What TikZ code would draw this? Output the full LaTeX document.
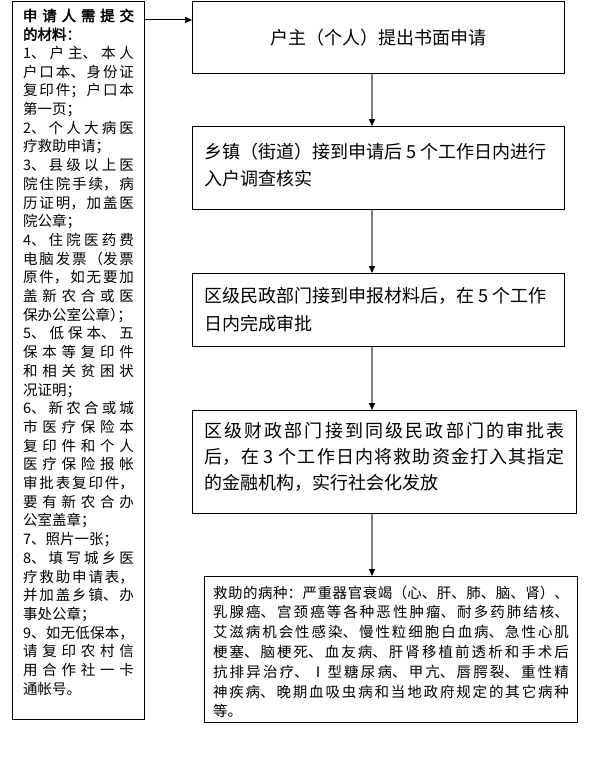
\documentclass[tikz,border=0pt]{standalone}
\usepackage{fontspec}
\setmainfont[AutoFakeBold=2.5]{Noto Sans CJK SC}
\usepackage{tikz}
\usetikzlibrary{arrows.meta}
\usetikzlibrary{positioning}

\XeTeXlinebreaklocale "zh"
\XeTeXlinebreakskip = 0pt plus 3pt minus 1.5pt
\tolerance = 10000

\newcommand{\BoxText}[3]{\parbox[c][#1][t]{#2}{#3}}
\newcommand{\HalfPunct}[1]{\makebox[0.5em][l]{#1}}

\begin{document}
\begin{tikzpicture}
[
	x = 1bp, y = 1bp,
	StepBox/.style	= {draw, line width = 1bp, inner sep = 0bp, anchor = north west},
	Flow/.style		= {draw = gray, line width = 1.5bp, -{Triangle[length = 7bp, width = 6bp, color = black]}},
	HandIn/.style	= {draw = black, line width = 1bp, -{Triangle[length = 7bp, width = 6bp]}},
]
	\useasboundingbox [fill = white] (0,0) rectangle (612,-760);

	% materials the applicant hands in
	\node (docs) [StepBox, minimum width = 132bp, minimum height = 717.5bp, font = \fontsize{14.5bp}{18.7bp}\selectfont] at (12,-1.5)
	{\BoxText{704bp}{111bp}{%
		{\bfseries 申请人需提交\linebreak 的材料：}\par
		1、户主、本人\linebreak 户口本、身份证\linebreak 复印件；户口本\linebreak 第一页；\par
		2、个人大病医\linebreak 疗救助申请；\par
		3、县级以上医\linebreak 院住院手续，病\linebreak 历证明，加盖医\linebreak 院公章；\par
		4、住院医药费\linebreak 电脑发票（发票\linebreak 原件，如无要加\linebreak 盖新农合或医\linebreak 保办公室公章\HalfPunct{）}；\par
		5、低保本、五\linebreak 保本等复印件\linebreak 和相关贫困状\linebreak 况证明；\par
		6、新农合或城\linebreak 市医疗保险本\linebreak 复印件和个人\linebreak 医疗保险报帐\linebreak 审批表复印件，\linebreak 要有新农合办\linebreak 公室盖章；\par
		7、照片一张；\par
		8、填写城乡医\linebreak 疗救助申请表，\linebreak 并加盖乡镇、办\linebreak 事处公章；\par
		9、如无低保本，\linebreak 请复印农村信\linebreak 用合作社一卡\linebreak 通帐号。}};

	% steps
	\node (ask) [StepBox, minimum width = 372bp, minimum height = 72bp, font = \fontsize{18bp}{26bp}\selectfont] at (192,-1) {户主（个人）提出书面申请};
	\node (check) [StepBox, below = 52bp of ask.south west, anchor = north west, minimum width = 372bp, minimum height = 83bp, font = \fontsize{18bp}{26.7bp}\selectfont]
	{\BoxText{50bp}{348bp}{乡镇（街道）接到申请后 5 个工作日内进行\\入户调查核实}};
	\node (approve) [StepBox, below = 63bp of check.south west, anchor = north west, minimum width = 372bp, minimum height = 73bp, font = \fontsize{18bp}{28.7bp}\selectfont]
	{\BoxText{46bp}{348bp}{区级民政部门接到申报材料后，在 5 个工作\\日内完成审批}};
	\node (fund) [StepBox, below = 63bp of approve.south west, anchor = north west, minimum width = 384bp, minimum height = 103bp, font = \fontsize{18bp}{26bp}\selectfont]
	{\BoxText{80bp}{361bp}{区级财政部门接到同级民政部门的审批表\linebreak 后，在 3 个工作日内将救助资金打入其指定\linebreak 的金融机构，实行社会化发放}};
	\node (illness) [StepBox, below = 62bp of fund.south west, anchor = north west, xshift = 12bp, minimum width = 373bp, minimum height = 146bp, font = \fontsize{14.5bp}{19.8bp}\selectfont]
	{\BoxText{127.6bp}{356bp}{救助的病种：严重器官衰竭（心、肝、肺、脑、肾）、\linebreak 乳腺癌、宫颈癌等各种恶性肿瘤、耐多药肺结核、\linebreak 艾滋病机会性感染、慢性粒细胞白血病、急性心肌\linebreak 梗塞、脑梗死、血友病、肝肾移植前透析和手术后\linebreak 抗排异治疗、Ⅰ型糖尿病、甲亢、唇腭裂、重性精\linebreak 神疾病、晚期血吸虫病和当地政府规定的其它病种\linebreak 等。}};

	% auxiliary coordinates for the connectors
	\coordinate (flowline) at (372,0);
	\coordinate (handline) at (0,-20);

	\draw [HandIn] (docs.east |- handline) -- (ask.west |- handline);
	\draw [Flow] (ask.south -| flowline) -- (check.north -| flowline);
	\draw [Flow] (check.south -| flowline) -- (approve.north -| flowline);
	\draw [Flow] (approve.south -| flowline) -- (fund.north -| flowline);
	\draw [Flow] (fund.south -| flowline) -- (illness.north -| flowline);

\end{tikzpicture}
\end{document}
